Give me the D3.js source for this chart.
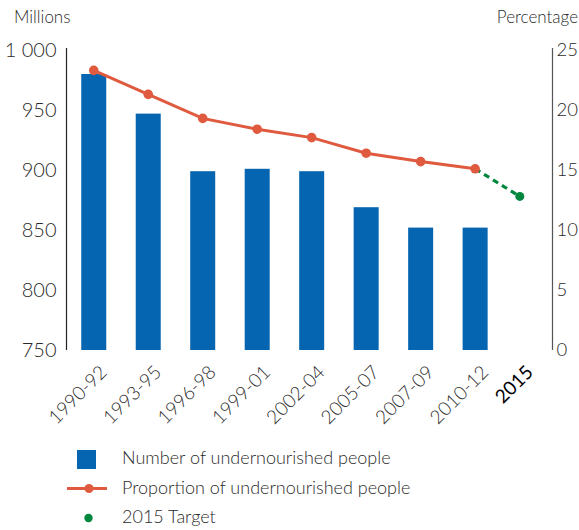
<!DOCTYPE html>
<html>
<head>
<meta charset="utf-8">
<script src="https://cdn.jsdelivr.net/npm/d3@7"></script>
<style>
  html, body { margin: 0; padding: 0; background: #fff; }
  svg { display: block; font-family: "Lato", "Open Sans", sans-serif; font-weight: 300; }
</style>
</head>
<body>
<svg id="chart" width="579" height="530"></svg>
<script>
// ---- data ----
const periods = ["1990-92", "1993-95", "1996-98", "1999-01", "2002-04", "2005-07", "2007-09", "2010-12"];
const undernourished = [980, 947, 899, 901, 899, 869, 852, 852];      // millions
const proportion = [23.3, 21.3, 19.3, 18.4, 17.7, 16.4, 15.7, 15.1];  // percent
const targetLabel = "2015";
const targetIndex = 7.82;
const targetValue = 12.8;
const leftTicks = [750, 800, 850, 900, 950, 1000];
const rightTicks = [0, 5, 10, 15, 20, 25];
const legendLabels = ["Number of undernourished people", "Proportion of undernourished people", "2015 Target"];

// ---- layout ----
const svg = d3.select("#chart");
const pLeft = 66.5, pRight = 552.5, pTop = 50, pBottom = 350;
const blue = "#0565b0", red = "#df5a3e", green = "#00873d", textCol = "#2b2b2b";

const x = d3.scaleLinear().domain([-0.5, 8.42]).range([pLeft, pRight]);
const yL = d3.scaleLinear().domain([750, 1000]).range([pBottom, pTop]);
const yR = d3.scaleLinear().domain([0, 25]).range([pBottom, pTop]);
const barW = 25;

// bars
svg.append("g").selectAll("rect").data(undernourished).join("rect")
  .attr("x", (d, i) => x(i) - barW / 2)
  .attr("y", d => yL(d))
  .attr("width", barW)
  .attr("height", d => yL(750) - yL(d))
  .attr("fill", blue);

// axes (lines + labels)
const fmt = d => d === 1000 ? "1 000" : String(d);
const axL = svg.append("g").attr("transform", `translate(${pLeft},0)`)
  .call(d3.axisLeft(yL).tickValues(leftTicks).tickSize(0).tickPadding(10).tickFormat(fmt));
axL.select(".domain").attr("stroke", "#222").attr("stroke-width", 1.2).attr("d", `M0,${pTop - 2}V${pBottom}`);
axL.selectAll("text").attr("font-size", 20).attr("fill", textCol).attr("font-family", "Lato, sans-serif").attr("font-weight", 300);

const axR = svg.append("g").attr("transform", `translate(${pRight},0)`)
  .call(d3.axisRight(yR).tickValues(rightTicks).tickSize(0).tickPadding(4));
axR.select(".domain").attr("stroke", "#555").attr("stroke-width", 1.2).attr("d", `M0,${pTop - 2}V${pBottom}`);
axR.selectAll("text").attr("font-size", 18.5).attr("fill", textCol).attr("font-family", "Lato, sans-serif").attr("font-weight", 300);

// axis titles
svg.append("text").attr("x", 14).attr("y", 23).text("Millions")
  .attr("font-size", 17).attr("fill", textCol);
svg.append("text").attr("x", 578).attr("y", 23).attr("text-anchor", "end").text("Percentage")
  .attr("font-size", 17).attr("fill", textCol);

// x labels
const xLabels = periods.map((p, i) => ({ t: p, pos: i, bold: false }))
  .concat([{ t: targetLabel, pos: targetIndex, bold: true }]);
svg.append("g").selectAll("text").data(xLabels).join("text")
  .attr("transform", d => `translate(${x(d.pos) + 5},${pBottom + 14}) rotate(-45)`)
  .attr("text-anchor", "end")
  .attr("dy", "0.7em")
  .attr("font-size", 19)
  .attr("font-weight", d => d.bold ? 400 : 300)
  .attr("fill", d => d.bold ? "#000" : textCol)
  .text(d => d.t);

// target dashed line
const lastI = proportion.length - 1;
svg.append("line")
  .attr("x1", x(lastI)).attr("y1", yR(proportion[lastI]))
  .attr("x2", x(targetIndex)).attr("y2", yR(targetValue))
  .attr("stroke", green).attr("stroke-width", 3.2).attr("stroke-dasharray", "6,4.5");

// proportion line
const line = d3.line().x((d, i) => x(i)).y(d => yR(d));
svg.append("path").datum(proportion).attr("d", line)
  .attr("fill", "none").attr("stroke", red).attr("stroke-width", 3);
svg.append("g").selectAll("circle").data(proportion).join("circle")
  .attr("cx", (d, i) => x(i)).attr("cy", d => yR(d)).attr("r", 4.8).attr("fill", red);

svg.append("circle").attr("cx", x(targetIndex)).attr("cy", yR(targetValue)).attr("r", 4.5).attr("fill", green);

// legend
const lg = svg.append("g");
lg.append("rect").attr("x", 77).attr("y", 450).attr("width", 19).attr("height", 19).attr("fill", blue);
lg.append("line").attr("x1", 67).attr("x2", 107).attr("y1", 488.5).attr("y2", 488.5)
  .attr("stroke", red).attr("stroke-width", 3);
lg.append("circle").attr("cx", 89).attr("cy", 488.5).attr("r", 4.5).attr("fill", red);
lg.append("circle").attr("cx", 88.5).attr("cy", 518).attr("r", 4.2).attr("fill", green);
lg.selectAll("text.lab").data(legendLabels).join("text").attr("class", "lab")
  .attr("x", 122).attr("y", (d, i) => 464 + i * 29.5)
  .attr("font-size", 18).attr("fill", textCol).text(d => d);
</script>
</body>
</html>
